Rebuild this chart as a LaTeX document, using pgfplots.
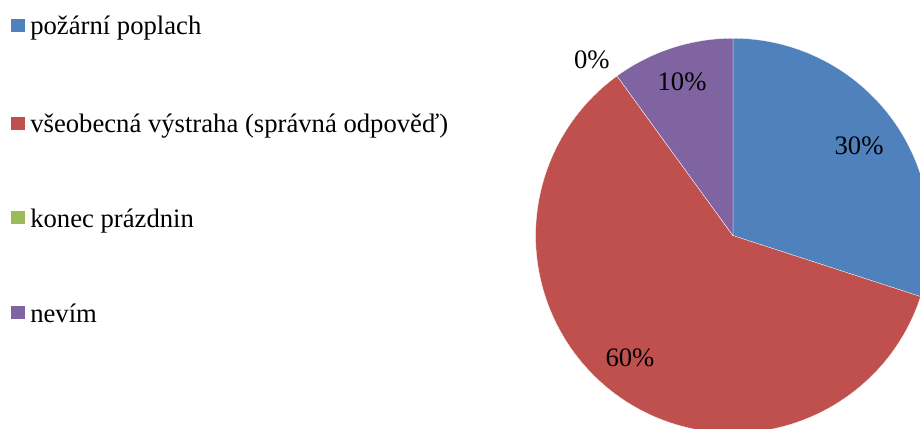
\documentclass[border=0pt]{standalone}
\usepackage{fontspec}
\setmainfont{Liberation Serif}
\usepackage{pgfplots}
\pgfplotsset{compat=1.18}
\definecolor{pblue}{HTML}{4F81BD}
\definecolor{pred}{HTML}{C0504D}
\definecolor{pgreen}{HTML}{9BBB59}
\definecolor{ppurple}{HTML}{8064A2}
\newcommand\lfont{\fontsize{20}{24}\selectfont}
\begin{document}
\begin{tikzpicture}
\useasboundingbox (0,0) rectangle (690pt,321pt);
\begin{axis}[at={(0,0)}, anchor=south west, scale only axis,
  width=690pt, height=321pt,
  xmin=-3.715, xmax=0.948, ymin=-0.975, ymax=1.194,
  hide axis, clip=false]
\xdef\cumangle{90}
\foreach \v/\c in {30/pblue,60/pred,0/pgreen,10/ppurple}{
  \pgfmathsetmacro\da{-3.6*\v}
  \edef\temp{\noexpand\fill[\c, draw=white, line width=0.2pt] (axis cs:0,0) -- (axis cs:{cos(\cumangle)},{sin(\cumangle)}) arc[start angle=\cumangle, delta angle=\da, radius=1] -- cycle;}
  \temp
  \pgfmathsetmacro\na{\cumangle+\da}
  \xdef\cumangle{\na}
}
\node[font=\lfont, inner sep=0pt] at (axis cs:0.639,0.454) {30\%};
\node[font=\lfont, inner sep=0pt] at (axis cs:-0.522,-0.620) {60\%};
\node[font=\lfont, inner sep=0pt] at (axis cs:-0.258,0.778) {10\%};
\node[font=\lfont, inner sep=0pt] at (axis cs:-0.715,0.890) {0\%};
\node[anchor=base west, inner sep=0pt, font=\lfont] at (axis cs:-3.659,1.017) {\textcolor{pblue}{\rule[2.25pt]{10.5pt}{10pt}}\hspace{3.75pt}požární poplach};
\node[anchor=base west, inner sep=0pt, font=\lfont] at (axis cs:-3.659,0.520) {\textcolor{pred}{\rule[2.25pt]{10.5pt}{10pt}}\hspace{3.75pt}všeobecná výstraha (správná odpověď)};
\node[anchor=base west, inner sep=0pt, font=\lfont] at (axis cs:-3.659,0.0436) {\textcolor{pgreen}{\rule[2.25pt]{10.5pt}{10pt}}\hspace{3.75pt}konec prázdnin};
\node[anchor=base west, inner sep=0pt, font=\lfont] at (axis cs:-3.659,-0.438) {\textcolor{ppurple}{\rule[2.25pt]{10.5pt}{10pt}}\hspace{3.75pt}nevím};
\end{axis}
\end{tikzpicture}
\end{document}
